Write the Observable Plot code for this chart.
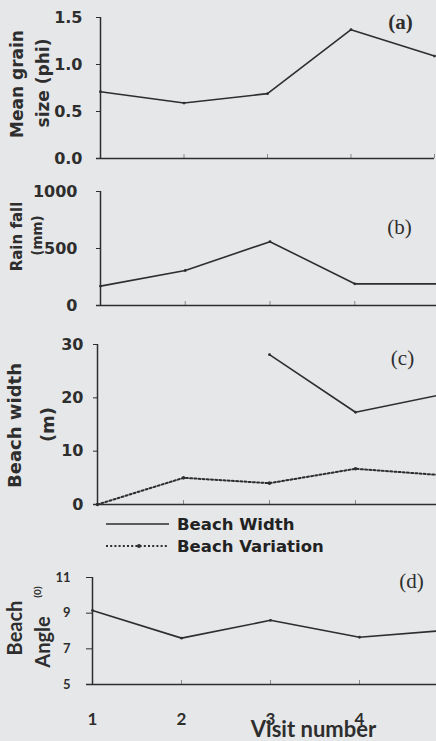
<!DOCTYPE html>
<html><head><meta charset="utf-8">
<script src="https://cdn.jsdelivr.net/npm/d3@7"></script>
<script src="https://cdn.jsdelivr.net/npm/@observablehq/plot@0.6"></script>
<style>
html,body{margin:0;padding:0;background:#e6e7e9;width:436px;height:741px;overflow:hidden;}
#wrap{position:relative;width:436px;height:741px;overflow:hidden;}
.panel{position:absolute;left:0;max-width:none !important;}
.legend{position:absolute;left:106px;display:flex;align-items:center;height:22px;font-family:"DejaVu Sans";font-weight:bold;font-size:16.5px;color:#222;}
.legend svg{margin-right:8px;}
</style></head><body><div id="wrap"></div>
<script>
// ---- data ----
const visits = [1, 2, 3, 4, 5];
const visitTicks = [1, 2, 3, 4, 5];
const visitLabels = [1, 2, 3, 4];                     // labels visible in the (cropped) figure
const grainSize = [0.71, 0.59, 0.69, 1.37, 1.09];      // phi
const grainTicks = [0, 0.5, 1.0, 1.5];
const rainFall = [170, 307, 560, 190, 190];           // mm
const rainTicks = [0, 500, 1000];
const beachWidth = [null, null, 28.1, 17.3, 20.6];    // m
const beachVariation = [0, 5.0, 4.0, 6.7, 5.5];       // m
const widthTicks = [0, 10, 20, 30];
const beachAngle = [9.15, 7.6, 8.6, 7.65, 8.05];      // degrees
const angleTicks = [5, 7, 9, 11];
const seriesNames = ["Beach Width", "Beach Variation"];

const ink = "#2e2e2e";
const rows = (vals) => visits.map((v, i) => ({visit: v, value: vals[i]}));
const wrap = document.getElementById("wrap");
function place(svg, top) { svg.classList.add("panel"); svg.style.top = top + "px"; wrap.appendChild(svg); }
const sans = "DejaVu Sans";
const title = (t, o) => Plot.text([t], {frameAnchor: "left", textAnchor: "middle", lineAnchor: "middle", text: d => d, rotate: -90, fontWeight: "bold", fill: ink, fontFamily: sans, ...o});
const tag = (t, o) => Plot.text([t], {frameAnchor: "top-left", textAnchor: "middle", lineAnchor: "middle", text: d => d, fill: ink, fontFamily: "Liberation Serif", fontSize: 21, ...o});
const common = {style: {background: "transparent", overflow: "visible", maxWidth: "none"}};

// ---- panel (a) ----
{
  const H = 170, mt = 17, mb = 12;
  place(Plot.plot({
    ...common, width: 440, height: H, marginLeft: 100, marginRight: 6, marginTop: mt, marginBottom: mb,
    x: {domain: [visitTicks[0], visitTicks[4]], axis: null},
    y: {domain: [grainTicks[0], grainTicks[3]], axis: null},
    marks: [
      Plot.axisY(grainTicks, {tickSize: 4, tickPadding: 14, tickFormat: d => d.toFixed(1), fontSize: 16, fontWeight: "bold", fontFamily: sans, color: ink, label: null}),
      Plot.tickX(visits, {x: d => d, insetTop: H - mt - mb - 4, stroke: ink, strokeOpacity: 0.5}),
      Plot.ruleX([visitTicks[0]], {stroke: ink, strokeWidth: 1.5}),
      Plot.ruleY([grainTicks[0]], {stroke: ink, strokeWidth: 1.5, insetLeft: -4}),
      Plot.line(rows(grainSize), {x: "visit", y: "value", stroke: ink, strokeWidth: 1.6}),
      Plot.dot(rows(grainSize), {x: "visit", y: "value", r: 1.4, fill: ink}),
      title("Mean grain", {dx: -83, dy: -4, fontSize: 17}),
      title("size (phi)", {dx: -57, dy: -5, fontSize: 17}),
      tag("(a)", {dx: 300, dy: 5, fontWeight: "bold"})
    ]
  }), 0);
}

// ---- panel (b) ----
{
  const H = 160, mt = 21, mb = 25;
  place(Plot.plot({
    ...common, width: 445, height: H, marginLeft: 100, marginRight: 6, marginTop: mt, marginBottom: mb,
    x: {domain: [visitTicks[0], visitTicks[4]], axis: null},
    y: {domain: [rainTicks[0], rainTicks[2]], axis: null},
    marks: [
      Plot.axisY(rainTicks, {tickSize: 4, tickPadding: 19, tickFormat: d => String(d), fontSize: 16, fontWeight: "bold", fontFamily: sans, color: ink, label: null}),
      Plot.tickX(visits, {x: d => d, insetTop: H - mt - mb - 4, stroke: ink, strokeOpacity: 0.5}),
      Plot.ruleX([visitTicks[0]], {stroke: ink, strokeWidth: 1.5}),
      Plot.ruleY([rainTicks[0]], {stroke: ink, strokeWidth: 1.5, insetLeft: -4}),
      Plot.line(rows(rainFall), {x: "visit", y: "value", stroke: ink, strokeWidth: 1.6}),
      Plot.dot(rows(rainFall), {x: "visit", y: "value", r: 1.4, fill: ink}),
      title("Rain fall", {dx: -83, dy: -12, fontSize: 15}),
      title("(mm)", {dx: -63, dy: -13, fontSize: 13.5}),
      tag("(b)", {dx: 299, dy: 36})
    ]
  }), 170);
}

// ---- panel (c) ----
{
  const H = 230, mt = 14, mb = 56;
  place(Plot.plot({
    ...common, width: 447, height: H, marginLeft: 97, marginRight: 6, marginTop: mt, marginBottom: mb,
    x: {domain: [visitTicks[0], visitTicks[4]], axis: null},
    y: {domain: [widthTicks[0], widthTicks[3]], axis: null},
    marks: [
      Plot.axisY(widthTicks, {tickSize: 4, tickPadding: 10, tickFormat: d => String(d), fontSize: 16, fontWeight: "bold", fontFamily: sans, color: ink, label: null}),
      Plot.tickX(visits, {x: d => d, insetTop: H - mt - mb - 4, stroke: ink, strokeOpacity: 0.5}),
      Plot.ruleX([visitTicks[0]], {stroke: ink, strokeWidth: 1.5}),
      Plot.ruleY([widthTicks[0]], {stroke: ink, strokeWidth: 1.5, insetLeft: -4}),
      Plot.line(rows(beachWidth), {x: "visit", y: "value", stroke: ink, strokeWidth: 1.6}),
      Plot.dot(rows(beachWidth).filter(d => d.value != null), {x: "visit", y: "value", r: 1.4, fill: ink}),
      Plot.line(rows(beachVariation), {x: "visit", y: "value", stroke: ink, strokeWidth: 2, strokeDasharray: "2,2.2"}),
      Plot.dot(rows(beachVariation), {x: "visit", y: "value", r: 1.8, fill: ink}),
      title("Beach width", {dx: -82, dy: 1, fontSize: 18}),
      title("(m)", {dx: -49, dy: 0, fontSize: 18}),
      tag("(c)", {dx: 305, dy: 14})
    ]
  }), 330);
}

// ---- legend (c) ----
{
  const dashes = [null, "2,2.2"];
  seriesNames.forEach((name, i) => {
    const div = document.createElement("div");
    div.className = "legend";
    div.style.top = (513 + i * 22) + "px";
    const ns = "http://www.w3.org/2000/svg";
    const s = document.createElementNS(ns, "svg");
    s.setAttribute("width", 63); s.setAttribute("height", 10);
    const l = document.createElementNS(ns, "line");
    l.setAttribute("x1", 0); l.setAttribute("x2", 63); l.setAttribute("y1", 5); l.setAttribute("y2", 5);
    l.setAttribute("stroke", ink); l.setAttribute("stroke-width", i ? 2 : 1.6);
    if (dashes[i]) l.setAttribute("stroke-dasharray", dashes[i]);
    s.appendChild(l);
    if (i) { const c = document.createElementNS(ns, "circle"); c.setAttribute("cx", 33); c.setAttribute("cy", 5); c.setAttribute("r", 2); c.setAttribute("fill", ink); s.appendChild(c); }
    div.appendChild(s);
    const sp = document.createElement("span"); sp.textContent = name; div.appendChild(sp);
    wrap.appendChild(div);
  });
}

// ---- panel (d) ----
{
  const H = 181, mt = 17, mb = 57;
  place(Plot.plot({
    ...common, width: 454, height: H, marginLeft: 92, marginRight: 6, marginTop: mt, marginBottom: mb,
    x: {domain: [visitTicks[0], visitTicks[4]], axis: null},
    y: {domain: [angleTicks[0], angleTicks[3]], axis: null},
    marks: [
      Plot.axisY(angleTicks, {tickSize: 6, tickPadding: 16, tickFormat: d => String(d), fontSize: 13, fontWeight: "bold", fontFamily: "Lato", color: ink, label: null}),
      Plot.axisX(visitLabels, {tickSize: 0, tickPadding: 28, tickFormat: d => String(d), fontSize: 17, fontWeight: "bold", fontFamily: "Lato", color: ink, label: null}),
      Plot.tickX(visits, {x: d => d, insetTop: H - mt - mb - 4, stroke: ink, strokeOpacity: 0.5}),
      Plot.ruleX([visitTicks[0]], {stroke: ink, strokeWidth: 1.5}),
      Plot.ruleY([angleTicks[0]], {stroke: ink, strokeWidth: 1.5, insetLeft: -6}),
      Plot.line(rows(beachAngle), {x: "visit", y: "value", stroke: ink, strokeWidth: 1.6}),
      Plot.dot(rows(beachAngle), {x: "visit", y: "value", r: 1.4, fill: ink}),
      title("Beach", {dx: -77, dy: -3, fontSize: 20, fontFamily: "Lato"}),
      title("Angle", {dx: -49, dy: 11, fontSize: 20, fontFamily: "Lato"}),
      title("(0)", {dx: -55, dy: -39, fontSize: 10, fontFamily: "Lato"}),
      Plot.text(["Visit number"], {frameAnchor: "bottom", lineAnchor: "middle", text: d => d, dx: 43, dy: 45, fontSize: 22, fontWeight: "bold", fontFamily: "Lato", fill: ink}),
      tag("(d)", {dx: 319, dy: 4})
    ]
  }), 560);
}
</script></body></html>
